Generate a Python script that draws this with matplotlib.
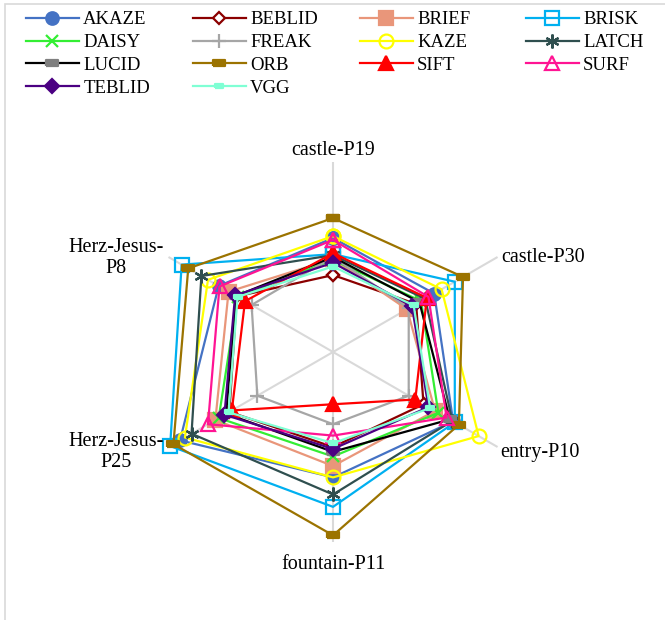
import numpy as np
import matplotlib
matplotlib.use("Agg")
import matplotlib.pyplot as plt
from matplotlib.patches import Rectangle

plt.rcParams["font.family"] = ["Liberation Serif", "DejaVu Serif"]

# Sequences (radar axes), clockwise from the top
scenes = ["castle-P19", "castle-P30", "entry-P10", "fountain-P11",
          "Herz-Jesus-\nP25", "Herz-Jesus-\nP8"]

# Score per descriptor, one value per scene (same order as `scenes`)
akaze  = [60.0, 61.5, 73.0, 66.0, 93.0, 69.5]
beblid = [40.5, 50.5, 55.0, 50.0, 63.0, 58.5]
brief  = [49.0, 45.0, 62.0, 60.0, 71.5, 63.5]
brisk  = [51.5, 74.0, 74.0, 81.5, 99.0, 92.0]
daisy  = [48.5, 53.5, 64.0, 55.0, 69.5, 58.0]
freak  = [50.0, 46.0, 46.0, 38.0, 46.0, 49.5]
kaze   = [61.0, 66.0, 88.5, 66.0, 90.0, 76.0]
latch  = [51.0, 56.0, 72.5, 75.0, 86.0, 80.0]
lucid  = [50.0, 52.5, 71.0, 52.5, 65.0, 59.0]
orb    = [70.5, 79.0, 76.5, 96.5, 97.0, 88.0]
sift   = [52.0, 57.0, 50.0, 27.5, 61.5, 53.5]
surf   = [59.0, 58.0, 69.0, 44.0, 76.0, 69.0]
teblid = [47.0, 48.0, 58.0, 51.0, 66.0, 59.5]
vgg    = [45.0, 49.0, 59.0, 48.0, 63.5, 58.0]

AXIS_MAX = 100
W, H = 665, 620

# flat rectangle used as the "dash" marker
dash = [(-1, -0.45), (1, -0.45), (1, 0.45), (-1, 0.45), (-1, -0.45)]
star = (6, 2, 0)

series = [
    # name, values, line colour, marker, size, face colour, edge colour
    ("AKAZE",  akaze,  "#4472C4", "o",  9, "#4472C4", "#4472C4"),
    ("BEBLID", beblid, "#8B0000", "D",  6, "white",   "#8B0000"),
    ("BRIEF",  brief,  "#E9967A", "s", 10, "#E9967A", "#E9967A"),
    ("BRISK",  brisk,  "#00B0F0", "s", 10, "none",    "#00B0F0"),
    ("DAISY",  daisy,  "#33EE33", "x",  9, "#33EE33", "#33EE33"),
    ("FREAK",  freak,  "#A6A6A6", "+", 10, "#A6A6A6", "#A6A6A6"),
    ("KAZE",   kaze,   "#FFFF00", "o", 10, "none",    "#FFFF00"),
    ("LATCH",  latch,  "#2F4F4F", star, 10, "#2F4F4F", "#2F4F4F"),
    ("LUCID",  lucid,  "#000000", dash, 9, "#7F7F7F", "#7F7F7F"),
    ("ORB",    orb,    "#9B7300", dash, 9, "#9B7300", "#9B7300"),
    ("SIFT",   sift,   "#FF0000", "^", 10, "#FF0000", "#FF0000"),
    ("SURF",   surf,   "#FF1493", "^", 10, "none",    "#FF1493"),
    ("TEBLID", teblid, "#4B0082", "D",  7, "#4B0082", "#4B0082"),
    ("VGG",    vgg,    "#7FFFD4", dash, 6, "#7FFFD4", "#7FFFD4"),
]

n = len(scenes)
angles = np.arange(n) * 2 * np.pi / n

fig = plt.figure(figsize=(W / 100, H / 100), dpi=100)

# thin chart-area frame
fig.patches.append(Rectangle((0.008, -0.02), 1.1, 1.0 - 0.006 + 0.02,
                             transform=fig.transFigure, fill=False,
                             edgecolor="#D9D9D9", linewidth=1.2))

ax = fig.add_axes([0.2151, 0.1258, 0.5714, 0.6129], projection="polar")
ax.set_theta_zero_location("N")
ax.set_theta_direction(-1)
ax.set_ylim(0, AXIS_MAX)
ax.set_xticks([])
ax.set_yticks([])
ax.grid(False)
ax.spines["polar"].set_visible(False)
ax.patch.set_alpha(0)

# spokes
for a in angles:
    ax.plot([a, a], [0, AXIS_MAX], color="#D9D9D9", lw=1.5, zorder=1)

handles = []
for i, (name, vals, col, mk, ms, fc, ec) in enumerate(series):
    th = np.append(angles, angles[0])
    r = np.append(vals, vals[0])
    h, = ax.plot(th, r, color=col, lw=1.6, marker=mk, markersize=ms,
                 markerfacecolor=fc, markeredgecolor=ec, markeredgewidth=1.6,
                 label=name, zorder=2 + i, clip_on=False)
    handles.append(h)

# axis labels (pixel positions around the web)
lab_kw = dict(fontsize=14.5, color="black")
ax.text(angles[0], 106, scenes[0], ha="center", va="center", **lab_kw)
ax.text(angles[3], 112, scenes[3], ha="center", va="center", **lab_kw)
fig.text(501 / W, 1 - 258 / H, scenes[1], ha="left", va="center", **lab_kw)
fig.text(500 / W, 1 - 452 / H, scenes[2], ha="left", va="center", **lab_kw)
fig.text(116 / W, 1 - 452 / H, scenes[4], ha="center", va="center",
         multialignment="center", linespacing=1.1, **lab_kw)
fig.text(116 / W, 1 - 258 / H, scenes[5], ha="center", va="center",
         multialignment="center", linespacing=1.1, **lab_kw)

# legend: four fixed-width columns, filled row by row
col_x = [26, 193, 360, 526]
for c in range(4):
    idx = list(range(c, len(series), 4))
    leg = fig.legend([handles[k] for k in idx], [series[k][0] for k in idx],
                     loc="upper left", bbox_to_anchor=(col_x[c] / W, 1 - 11 / H),
                     frameon=False, fontsize=13.5, handlelength=2.8,
                     handletextpad=0.25, labelspacing=0.31,
                     borderaxespad=0.0, borderpad=0.0)

fig.savefig("out.png", dpi=100)
